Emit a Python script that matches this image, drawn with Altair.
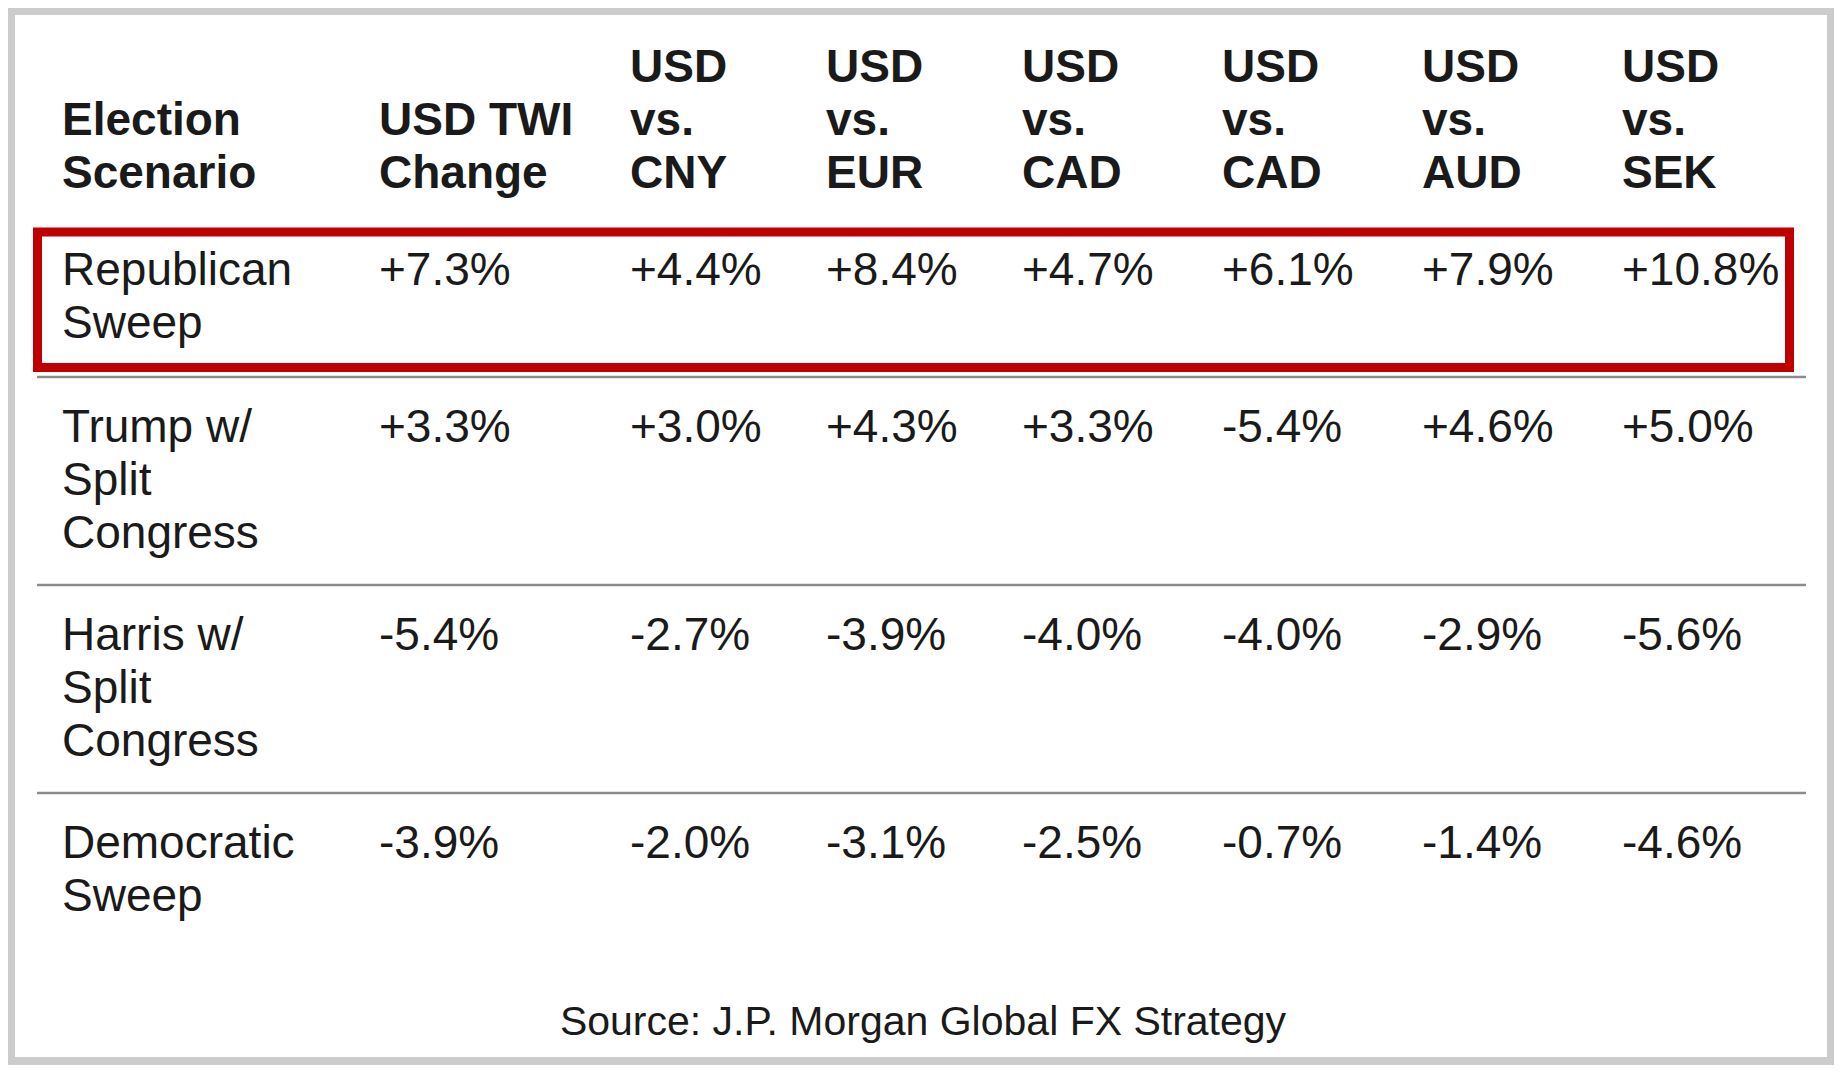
import altair as alt
import pandas as pd

# ---- data ----
headers = [["Election", "Scenario"], ["USD TWI", "Change"], ["USD", "vs.", "CNY"],
           ["USD", "vs.", "EUR"], ["USD", "vs.", "CAD"], ["USD", "vs.", "CAD"],
           ["USD", "vs.", "AUD"], ["USD", "vs.", "SEK"]]
scenarios = ["Republican\nSweep", "Trump w/\nSplit\nCongress", "Harris w/\nSplit\nCongress",
             "Democratic\nSweep"]
republican_sweep = [7.3, 4.4, 8.4, 4.7, 6.1, 7.9, 10.8]
trump_split = [3.3, 3.0, 4.3, 3.3, -5.4, 4.6, 5.0]
harris_split = [-5.4, -2.7, -3.9, -4.0, -4.0, -2.9, -5.6]
democratic_sweep = [-3.9, -2.0, -3.1, -2.5, -0.7, -1.4, -4.6]
source = "Source: J.P. Morgan Global FX Strategy"

values = [republican_sweep, trump_split, harris_split, democratic_sweep]

# ---- tables built from the arrays (header lines bottom-aligned) ----
hrows = []
for c, lines in enumerate(headers):
    n = len(lines)
    for i, line in enumerate(lines):
        hrows.append({"col": c, "row": -3 + (3 - n) + i, "label": line})
header_df = pd.DataFrame(hrows)

rows = []
for r, (name, vals) in enumerate(zip(scenarios, values)):
    rows.append({"col": 0, "row": r, "label": name})
    for c, v in enumerate(vals, start=1):
        rows.append({"col": c, "row": r, "label": f"{v:+.1f}%"})
cell_df = pd.DataFrame(rows)
sep_df = pd.DataFrame({"row": [1, 2, 3]})
box_df = pd.DataFrame({"row": [0]})
src_df = pd.DataFrame({"label": [source]})

# ---- layout scales (piecewise) ----
xscale = alt.Scale(domain=list(range(8)),
                   range=[47, 364, 615, 811, 1007, 1207, 1407, 1607])
yscale = alt.Scale(domain=[-3, -2, -1, 0, 1, 2, 3],
                   range=[67, 120, 173, 270, 427, 635, 843])

FONT = "Liberation Sans"
TXT = "#1a1a1a"

header = alt.Chart(header_df).mark_text(
    font=FONT, fontSize=46, fontWeight="bold", align="left", baseline="alphabetic",
    color=TXT
).encode(
    x=alt.X("col:Q", scale=xscale, axis=None),
    y=alt.Y("row:Q", scale=yscale, axis=None),
    text="label:N",
)

cells = alt.Chart(cell_df).mark_text(
    font=FONT, fontSize=46, align="left", baseline="alphabetic",
    lineBreak="\n", lineHeight=53, color=TXT
).encode(
    x=alt.X("col:Q", scale=xscale, axis=None),
    y=alt.Y("row:Q", scale=yscale, axis=None),
    text="label:N",
)

seps = alt.Chart(sep_df).mark_rule(color="#8c8c8c", strokeWidth=2.5, yOffset=-65).encode(
    y=alt.Y("row:Q", scale=yscale, axis=None),
    x=alt.value(22), x2=alt.value(1791),
)

box = alt.Chart(box_df).mark_rect(
    filled=False, stroke="#c00000", strokeWidth=9, yOffset=-53, y2Offset=82.5
).encode(
    y=alt.Y("row:Q", scale=yscale, axis=None),
    y2=alt.Y2("row:Q"),
    x=alt.value(22.5), x2=alt.value(1774.5),
)

src = alt.Chart(src_df).mark_text(
    font=FONT, fontSize=41, align="center", baseline="alphabetic", color=TXT
).encode(
    text="label:N", x=alt.value(908), y=alt.value(1020),
)

chart = alt.layer(seps, box, header, cells, src).properties(
    width=1812, height=1042,
    padding={"left": 7, "top": 7, "right": 7, "bottom": 8},
    autosize=alt.AutoSizeParams(type="none"),
    background="#cccccc",
).configure_view(fill="white", strokeWidth=0)

chart.save("out.html", embed_options={"renderer": "svg", "actions": False})
